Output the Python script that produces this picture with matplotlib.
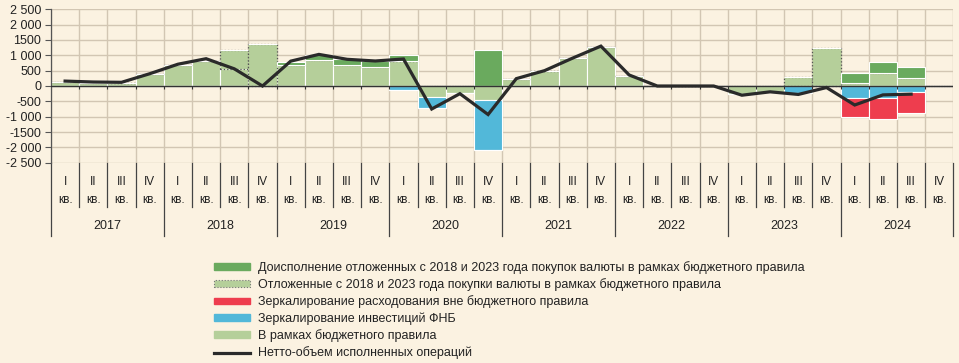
import numpy as np
import matplotlib
matplotlib.use("Agg")
import matplotlib.pyplot as plt
from matplotlib.patches import Patch
from matplotlib.lines import Line2D
from matplotlib.transforms import blended_transform_factory

plt.rcParams['font.family'] = ['Liberation Sans', 'DejaVu Sans']

years = ['2017', '2018', '2019', '2020', '2021', '2022', '2023', '2024']
quarters = ['I', 'II', 'III', 'IV']

# quarterly values, 2017 Q1 .. 2024 Q4
in_rule = [140, 90, 110, 390,
           690, 820, 560, 0,
           700, 860, 690, 620,
           810, -350, -240, -460,
           230, 480, 910, 1270,
           340, 0, 0, 0,
           -270, -200, 0, 0,
           100, 415, 250, 0]
deferred = [0, 0, 0, 0,
            0, 0, 620, 1380,
            0, 0, 0, 0,
            0, 0, 0, 0,
            0, 0, 0, 0,
            0, 0, 0, 0,
            0, 0, 280, 1250,
            0, 0, 0, 0]
extra = [0, 0, 0, 0,
         0, 0, 0, 0,
         80, 140, 200, 210,
         190, 0, 0, 1170,
         0, 0, 0, 0,
         0, 0, 0, 0,
         0, 0, 0, 0,
         315, 360, 360, 0]
fnb = [0, 0, 0, 0,
       0, 0, 0, 0,
       0, 0, 0, 0,
       -120, -375, 0, -1630,
       0, 0, 0, 0,
       0, 0, 0, 0,
       0, 0, -220, 0,
       -375, -375, -190, 0]
mirror = [0, 0, 0, 0,
          0, 0, 0, 0,
          0, 0, 0, 0,
          0, 0, 0, 0,
          0, 0, 0, 0,
          0, 0, 0, 0,
          0, 0, 0, 0,
          -635, -685, -695, 0]
net = [160, 130, 120, 400,
       710, 890, 560, 0,
       810, 1030, 870, 815,
       880, -750, -250, -930,
       240, 500, 910, 1300,
       360, 0, 0, 0,
       -300, -190, -275, -50,
       -620, -290, -265, np.nan]

BG = '#fbf2e1'
LIGHT = '#b5cf9a'
DARK = '#6aaa5e'
BLUE = '#52b8d9'
RED = '#ee3d4e'
GRID = '#d2c6b3'

fig = plt.figure(figsize=(9.59, 3.63), dpi=100, facecolor=BG)
ax = fig.add_axes([51 / 959, 1 - 162.7 / 363, 902.4 / 959, 153.4 / 363])
ax.set_facecolor(BG)

n = len(in_rule)
x = np.arange(n) + 0.5
ir = np.array(in_rule, float)
ir_pos = np.clip(ir, 0, None)
ir_neg = np.clip(ir, None, 0)
dfr = np.array(deferred, float)
ext = np.array(extra, float)
fb = np.array(fnb, float)
mr = np.array(mirror, float)

kw = dict(width=1.0, edgecolor='white', linewidth=0.8, zorder=2)
ax.bar(x, ir_pos, color=LIGHT, **kw)
ax.bar(x, dfr, bottom=ir_pos, color=LIGHT, edgecolor='#555555', linewidth=0.9,
       linestyle=':', width=1.0, zorder=2)
ax.bar(x, ext, bottom=ir_pos + dfr, color=DARK, **kw)
ax.bar(x, ir_neg, color=LIGHT, **kw)
ax.bar(x, fb, bottom=ir_neg, color=BLUE, **kw)
ax.bar(x, mr, bottom=ir_neg + fb, color=RED, **kw)
ax.plot(x, net, color='#2a2a2a', linewidth=2.3, zorder=4, solid_joinstyle='miter')

ax.axhline(0, color='#333333', linewidth=1.0, zorder=3)
ax.vlines(np.arange(1, n), -110, 0, color='#333333', linewidth=0.8, zorder=3)

ax.set_xlim(0, n)
ax.set_ylim(-2500, 2500)
ax.set_yticks(np.arange(-2500, 2501, 500))
ax.set_yticklabels(['-2 500', '-2 000', '-1500', '-1 000', '-500', '0',
                    '500', '1 000', '1500', '2 000', '2 500'], fontsize=9, color='#222222')
ax.set_xticks(np.arange(0, n + 1))
ax.set_xticklabels([])
ax.tick_params(axis='x', length=0)
ax.tick_params(axis='y', length=4, width=0.8, color='#555555', pad=3)
ax.grid(True, color=GRID, linewidth=1.0, zorder=0)
ax.set_axisbelow(True)
for s in ['top', 'right', 'bottom']:
    ax.spines[s].set_visible(False)
ax.spines['left'].set_color('#555555')
ax.spines['left'].set_linewidth(0.9)

# multilevel category axis below the plot
tr = blended_transform_factory(ax.transData, ax.transAxes)
def ay(py):
    return (162.7 - py) / 153.4

for b in range(0, n + 1):
    bottom = ay(236) if b % 4 == 0 else ay(207)
    ax.plot([b, b], [ay(163), bottom], transform=tr, color='#444444',
            linewidth=0.9, clip_on=False)
for i in range(n):
    ax.text(x[i], ay(182), quarters[i % 4], transform=tr, ha='center', va='center',
            fontsize=8.5, color='#222222')
    ax.text(x[i], ay(200), 'кв.', transform=tr, ha='center', va='center',
            fontsize=8.5, color='#222222')
for k, yr in enumerate(years):
    ax.text(4 * k + 2, ay(226), yr, transform=tr, ha='center', va='center',
            fontsize=9, color='#222222')

handles = [
    Patch(facecolor=DARK, edgecolor=DARK),
    Patch(facecolor=LIGHT, edgecolor='#777777', linestyle=':', linewidth=0.8),
    Patch(facecolor=RED, edgecolor=RED),
    Patch(facecolor=BLUE, edgecolor=BLUE),
    Patch(facecolor=LIGHT, edgecolor=LIGHT),
    Line2D([], [], color='#2a2a2a', linewidth=2.3),
]
labels = [
    'Доисполнение отложенных с 2018 и 2023 года покупок валюты в рамках бюджетного правила',
    'Отложенные с 2018 и 2023 года покупки валюты в рамках бюджетного правила',
    'Зеркалирование расходования вне бюджетного правила',
    'Зеркалирование инвестиций ФНБ',
    'В рамках бюджетного правила',
    'Нетто-объем исполненных операций',
]
fig.legend(handles, labels, loc='upper left', bbox_to_anchor=(214 / 959, 1 - 261 / 363),
           frameon=False, fontsize=9, handlelength=2.9, handleheight=0.45,
           handletextpad=0.6, labelspacing=0.34, borderpad=0, borderaxespad=0,
           labelcolor='#222222')

fig.savefig('out.png', dpi=100, facecolor=BG)
